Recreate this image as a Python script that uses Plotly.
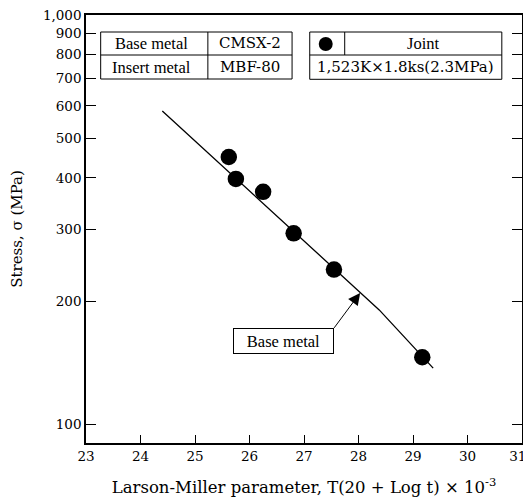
import plotly.graph_objects as go

# Joint data (Larson-Miller parameter, stress)
lmp_joint = [25.62, 25.75, 26.25, 26.81, 27.55, 29.17]
stress_joint = [450, 398, 370, 293, 239, 146]

# Base metal reference line
lmp_base = [24.40, 28.38, 29.37]
stress_base = [583, 190.5, 137.3]

y_tickvals = [100, 200, 300, 400, 500, 600, 700, 800, 900, 1000]
y_ticktext = ["100", "200", "300", "400", "500", "600", "700", "800", "900", "1,000"]
x_tickvals = [23, 24, 25, 26, 27, 28, 29, 30, 31]
x_ticktext = ["23", "24", "25", "26", "27", "28", "29", "30", "31\u00a0\u00a0"]

# page offset of the plot div (browser body margin)
OFF = 8
W, H = 531 - OFF, 503 - OFF
L, R, T, B = 86 - OFF, 8.5, 15 - OFF, 60
pw, ph = W - L - R, H - T - B


def px(x):
    return (x - OFF - L) / pw


def py(y):
    return (H - B - (y - OFF)) / ph


fig = go.Figure()
fig.add_trace(go.Scatter(x=lmp_base, y=stress_base, mode="lines",
                         line=dict(color="black", width=1.3), showlegend=False))
fig.add_trace(go.Scatter(x=lmp_joint, y=stress_joint, mode="markers",
                         marker=dict(color="black", size=16.5), showlegend=False))

tick_font = dict(family="DejaVu Serif", size=13.5, color="black")
fig.update_layout(
    width=W, height=H,
    margin=dict(l=L, r=R, t=T, b=B, autoexpand=False),
    paper_bgcolor="white", plot_bgcolor="white",
    font=dict(family="DejaVu Serif", color="black"),
    xaxis=dict(range=[23, 31], tickvals=x_tickvals, ticktext=x_ticktext,
               ticks="inside", ticklen=8,
               tickwidth=1, tickcolor="black", showline=True, linecolor="black",
               linewidth=1.5, mirror=True, showgrid=False, zeroline=False,
               tickfont=tick_font, automargin=False, ticklabeloverflow="allow",
               title=dict(text="Larson-Miller parameter, T(20 + Log t) × 10<sup>-3</sup>",
                          font=dict(family="DejaVu Serif", size=16.5), standoff=18)),
    yaxis=dict(type="log", range=[1.955, 3.0], tickvals=y_tickvals, ticktext=y_ticktext,
               ticks="inside", ticklen=10, tickwidth=1, tickcolor="black",
               showline=True, linecolor="black", linewidth=1.5, mirror="ticks",
               showgrid=False, zeroline=False, tickfont=tick_font, automargin=False,
               ticklabeloverflow="allow",
               title=dict(text="Stress, σ (MPa)", font=dict(family="DejaVu Serif", size=15),
                          standoff=23)),
)

shapes = []
lw = dict(color="black", width=1)
# left table
shapes.append(dict(type="rect", xref="paper", yref="paper", x0=px(100.7), x1=px(292.3),
                   y0=py(79), y1=py(32), line=lw))
shapes.append(dict(type="line", xref="paper", yref="paper", x0=px(100.7), x1=px(292.3),
                   y0=py(55), y1=py(55), line=lw))
shapes.append(dict(type="line", xref="paper", yref="paper", x0=px(208), x1=px(208),
                   y0=py(79), y1=py(32), line=lw))
# right table
shapes.append(dict(type="rect", xref="paper", yref="paper", x0=px(310), x1=px(502.3),
                   y0=py(79.3), y1=py(32), line=lw))
shapes.append(dict(type="line", xref="paper", yref="paper", x0=px(310), x1=px(502.3),
                   y0=py(55), y1=py(55), line=lw))
shapes.append(dict(type="line", xref="paper", yref="paper", x0=px(345), x1=px(345),
                   y0=py(55), y1=py(32), line=lw))
# legend symbol
shapes.append(dict(type="circle", xref="paper", yref="paper", x0=px(319), x1=px(333),
                   y0=py(51), y1=py(37), fillcolor="black", line=dict(color="black", width=0)))
fig.update_layout(shapes=shapes)

tfont = dict(family="Liberation Serif", size=16.5, color="black")
nfont = dict(family="DejaVu Serif", size=15, color="black")
cells = [
    ("Base metal", 152, 43.5, tfont), ("CMSX-2", 250, 43.5, nfont),
    ("Insert metal", 152, 67, tfont), ("MBF-80", 250, 67, nfont),
    ("Joint", 423.6, 43.5, tfont), ("1,523K×1.8ks(2.3MPa)", 406, 67, nfont),
]
for txt, cx, cy, f in cells:
    fig.add_annotation(text=txt, xref="paper", yref="paper", x=px(cx), y=py(cy),
                       xanchor="center", yanchor="middle", showarrow=False, font=f)

# Base metal label box with arrow
fig.add_annotation(text="Base metal", x=28.03, y=2.3215, xref="x", yref="y",
                   ax=-26, ay=35, xanchor="right", yanchor="top",
                   width=93, height=18,
                   showarrow=True, arrowhead=2, arrowsize=2.4, arrowwidth=1,
                   arrowcolor="black", font=tfont,
                   bordercolor="black", borderwidth=1, borderpad=3, bgcolor="white")

fig.write_html("out.html")
